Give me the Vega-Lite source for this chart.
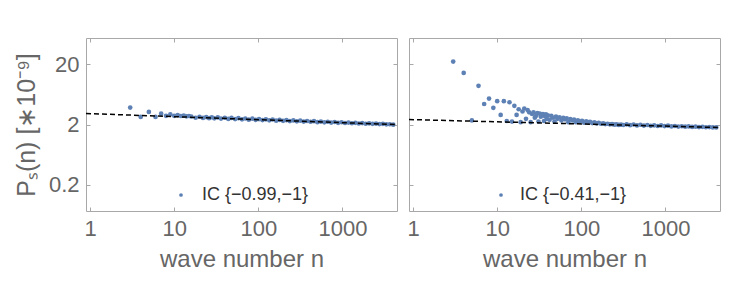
{
  "$schema": "https://vega.github.io/schema/vega-lite/v6.json",
  "padding": {"left": 13, "top": 37, "right": 5, "bottom": 2},
  "spacing": 8,
  "config": {
    "view": {"stroke": "#a8a8a8", "strokeWidth": 1},
    "font": "Liberation Sans",
    "axis": {
      "grid": false, "domain": false, "tickColor": "#a8a8a8", "tickSize": -4,
      "labelFontSize": 22, "labelColor": "#666666", "labelFont": "Liberation Sans",
      "titleFontSize": 24, "titleColor": "#666666", "titleFontWeight": "normal", "titleFont": "Liberation Sans"
    }
  },
  "datasets": {
    "pts": [
      {"panel":"L","n":3,"p":3.83},{"panel":"L","n":4,"p":2.68},{"panel":"L","n":5,"p":3.25},{"panel":"L","n":6,"p":2.68},
      {"panel":"L","n":7,"p":3.04},{"panel":"L","n":8,"p":2.80},{"panel":"L","n":9,"p":2.95},{"panel":"L","n":10,"p":2.80},
      {"panel":"L","n":11,"p":2.88},{"panel":"L","n":12,"p":2.78},{"panel":"L","n":13,"p":2.82},{"panel":"L","n":14,"p":2.75},
      {"panel":"L","n":15,"p":2.78},{"panel":"L","n":16,"p":2.73},{"panel":"L","n":18,"p":2.60},{"panel":"L","n":20,"p":2.70},
      {"panel":"L","n":22,"p":2.58},{"panel":"L","n":24,"p":2.67},{"panel":"L","n":26,"p":2.56},{"panel":"L","n":28,"p":2.65},
      {"panel":"L","n":30,"p":2.54},{"panel":"L","n":33,"p":2.63},{"panel":"L","n":36,"p":2.52},{"panel":"L","n":40,"p":2.60},
      {"panel":"L","n":44,"p":2.49},{"panel":"L","n":48,"p":2.58},{"panel":"L","n":53,"p":2.47},{"panel":"L","n":58,"p":2.56},
      {"panel":"L","n":64,"p":2.45},{"panel":"L","n":70,"p":2.53},{"panel":"L","n":77,"p":2.42},{"panel":"L","n":85,"p":2.51},
      {"panel":"L","n":93,"p":2.40},{"panel":"L","n":102,"p":2.47},{"panel":"L","n":112,"p":2.38},{"panel":"L","n":123,"p":2.45},
      {"panel":"L","n":135,"p":2.36},{"panel":"L","n":148,"p":2.43},{"panel":"L","n":163,"p":2.33},{"panel":"L","n":179,"p":2.39},
      {"panel":"L","n":197,"p":2.31},{"panel":"L","n":216,"p":2.37},{"panel":"L","n":237,"p":2.29},{"panel":"L","n":261,"p":2.35},
      {"panel":"L","n":287,"p":2.27},{"panel":"L","n":315,"p":2.33},{"panel":"L","n":346,"p":2.25},{"panel":"L","n":380,"p":2.30},
      {"panel":"L","n":418,"p":2.23},{"panel":"L","n":459,"p":2.28},{"panel":"L","n":504,"p":2.20},{"panel":"L","n":554,"p":2.25},
      {"panel":"L","n":609,"p":2.18},{"panel":"L","n":669,"p":2.23},{"panel":"L","n":735,"p":2.16},{"panel":"L","n":808,"p":2.21},
      {"panel":"L","n":888,"p":2.14},{"panel":"L","n":976,"p":2.19},{"panel":"L","n":1072,"p":2.13},{"panel":"L","n":1178,"p":2.16},
      {"panel":"L","n":1295,"p":2.11},{"panel":"L","n":1423,"p":2.14},{"panel":"L","n":1564,"p":2.09},{"panel":"L","n":1718,"p":2.12},
      {"panel":"L","n":1888,"p":2.07},{"panel":"L","n":2075,"p":2.10},{"panel":"L","n":2280,"p":2.06},{"panel":"L","n":2505,"p":2.08},
      {"panel":"L","n":2753,"p":2.04},{"panel":"L","n":3025,"p":2.06},{"panel":"L","n":3324,"p":2.02},{"panel":"L","n":3653,"p":2.03},
      {"panel":"L","n":4014,"p":2.00},

      {"panel":"R","n":3,"p":22.2},{"panel":"R","n":4,"p":14.4},{"panel":"R","n":5,"p":2.35},{"panel":"R","n":6,"p":8.8},
      {"panel":"R","n":7,"p":4.4},{"panel":"R","n":8,"p":5.4},{"panel":"R","n":9,"p":3.8},{"panel":"R","n":10,"p":4.9},
      {"panel":"R","n":11,"p":2.9},{"panel":"R","n":12,"p":4.9},{"panel":"R","n":13,"p":2.3},{"panel":"R","n":14,"p":4.7},
      {"panel":"R","n":15,"p":2.25},{"panel":"R","n":16,"p":4.1},{"panel":"R","n":17,"p":2.9},{"panel":"R","n":18,"p":3.6},
      {"panel":"R","n":19,"p":2.2},{"panel":"R","n":20,"p":3.3},{"panel":"R","n":21,"p":3.7},{"panel":"R","n":22,"p":2.5},
      {"panel":"R","n":23,"p":3.5},{"panel":"R","n":24,"p":3.2},{"panel":"R","n":25,"p":2.2},{"panel":"R","n":26,"p":3.0},
      {"panel":"R","n":27,"p":3.2},{"panel":"R","n":28,"p":2.6},{"panel":"R","n":29,"p":2.8},{"panel":"R","n":30,"p":3.1},
      {"panel":"R","n":31,"p":2.25},{"panel":"R","n":32,"p":3.05},{"panel":"R","n":33,"p":2.7},{"panel":"R","n":34,"p":2.9},
      {"panel":"R","n":35,"p":3.0},{"panel":"R","n":36,"p":2.3},{"panel":"R","n":37,"p":2.75},{"panel":"R","n":38,"p":2.95},
      {"panel":"R","n":39,"p":2.5},{"panel":"R","n":40,"p":2.85},{"panel":"R","n":42,"p":2.4},{"panel":"R","n":44,"p":2.8},
      {"panel":"R","n":46,"p":2.6},{"panel":"R","n":48,"p":2.25},{"panel":"R","n":50,"p":2.72},{"panel":"R","n":52,"p":2.5},
      {"panel":"R","n":55,"p":2.65},{"panel":"R","n":58,"p":2.35},{"panel":"R","n":61,"p":2.6},{"panel":"R","n":64,"p":2.45},
      {"panel":"R","n":67,"p":2.55},{"panel":"R","n":70,"p":2.2},{"panel":"R","n":74,"p":2.48},{"panel":"R","n":78,"p":2.35},
      {"panel":"R","n":82,"p":2.42},{"panel":"R","n":86,"p":2.2},{"panel":"R","n":91,"p":2.36},{"panel":"R","n":96,"p":2.25},
      {"panel":"R","n":102,"p":2.32},{"panel":"R","n":108,"p":2.15},{"panel":"R","n":114,"p":2.26},{"panel":"R","n":120,"p":2.2},
      {"panel":"R","n":127,"p":2.22},{"panel":"R","n":135,"p":2.12},{"panel":"R","n":143,"p":2.18},{"panel":"R","n":152,"p":2.1},
      {"panel":"R","n":161,"p":2.14},{"panel":"R","n":171,"p":2.07},{"panel":"R","n":182,"p":2.1},{"panel":"R","n":193,"p":2.04},
      {"panel":"R","n":205,"p":2.07},{"panel":"R","n":218,"p":2.02},{"panel":"R","n":232,"p":2.04},{"panel":"R","n":247,"p":2.0},
      {"panel":"R","n":262,"p":2.02},{"panel":"R","n":279,"p":1.98},{"panel":"R","n":297,"p":2.0},{"panel":"R","n":316,"p":1.97},
      {"panel":"R","n":346,"p":2.02},{"panel":"R","n":380,"p":1.96},{"panel":"R","n":418,"p":2.01},{"panel":"R","n":459,"p":1.94},
      {"panel":"R","n":504,"p":1.99},{"panel":"R","n":554,"p":1.93},{"panel":"R","n":609,"p":1.97},{"panel":"R","n":669,"p":1.91},
      {"panel":"R","n":735,"p":1.95},{"panel":"R","n":808,"p":1.90},{"panel":"R","n":888,"p":1.94},{"panel":"R","n":976,"p":1.89},
      {"panel":"R","n":1072,"p":1.92},{"panel":"R","n":1178,"p":1.87},{"panel":"R","n":1295,"p":1.90},{"panel":"R","n":1423,"p":1.86},
      {"panel":"R","n":1564,"p":1.88},{"panel":"R","n":1718,"p":1.85},{"panel":"R","n":1888,"p":1.87},{"panel":"R","n":2075,"p":1.83},
      {"panel":"R","n":2280,"p":1.85},{"panel":"R","n":2505,"p":1.82},{"panel":"R","n":2753,"p":1.84},{"panel":"R","n":3025,"p":1.81},
      {"panel":"R","n":3324,"p":1.82},{"panel":"R","n":3653,"p":1.80},{"panel":"R","n":4014,"p":1.80}
    ],
    "fit": [
      {"panel":"L","n":0.895,"p":3.06},{"panel":"L","n":4450,"p":2.0},
      {"panel":"R","n":0.895,"p":2.43},{"panel":"R","n":4450,"p":1.79}
    ]
  },
  "resolve": {"scale": {"color": "independent"}, "legend": {"color": "independent"}},
  "hconcat": [
    {
      "width": 311, "height": 173,
      "layer": [
        {
          "data": {"name": "pts"},
          "transform": [{"filter": "datum.panel === 'L'"}],
          "mark": {"type": "point", "filled": true, "size": 22, "opacity": 1, "clip": true},
          "encoding": {
            "x": {"field": "n", "type": "quantitative",
              "scale": {"type": "log", "domain": [0.895, 4450], "nice": false},
              "axis": {"orient": "bottom", "values": [1, 10, 100, 1000], "format": "~g", "labelPadding": 11, "title": "wave number n", "titlePadding": 8}},
            "y": {"field": "p", "type": "quantitative",
              "scale": {"type": "log", "domain": [0.074, 54.6], "nice": false},
              "axis": {"orient": "left", "values": [0.2, 2, 20], "format": "~g", "labelPadding": 11, "title": "Pₛ(n) [∗10⁻⁹]", "titlePadding": 9, "titleFontSize": 25}},
            "color": {"datum": "IC {−0.99,−1}", "type": "nominal",
              "scale": {"range": ["#5e81b5"]},
              "legend": {"title": null, "orient": "none", "legendX": 86, "legendY": 148, "padding": 0,
                "symbolType": "circle", "symbolSize": 14, "symbolStrokeWidth": 0, "labelFontSize": 18, "labelColor": "#333333", "labelOffset": 12, "labelFont": "Liberation Sans"}}
          }
        },
        {
          "data": {"name": "fit"},
          "transform": [{"filter": "datum.panel === 'L'"}],
          "mark": {"type": "line", "color": "black", "strokeDash": [5, 3], "strokeWidth": 1.5, "clip": true},
          "encoding": {
            "x": {"field": "n", "type": "quantitative", "axis": {"orient": "top", "values": [1, 10, 100, 1000], "labels": false, "title": null}},
            "y": {"field": "p", "type": "quantitative", "axis": {"orient": "right", "values": [0.2, 2, 20], "labels": false, "title": null}}
          }
        }
      ],
      "resolve": {"axis": {"x": "independent", "y": "independent"}}
    },
    {
      "width": 311, "height": 173,
      "layer": [
        {
          "data": {"name": "pts"},
          "transform": [{"filter": "datum.panel === 'R'"}],
          "mark": {"type": "point", "filled": true, "size": 22, "opacity": 1, "clip": true},
          "encoding": {
            "x": {"field": "n", "type": "quantitative",
              "scale": {"type": "log", "domain": [0.895, 4450], "nice": false},
              "axis": {"orient": "bottom", "values": [1, 10, 100, 1000], "format": "~g", "labelPadding": 11, "title": "wave number n", "titlePadding": 8}},
            "y": {"field": "p", "type": "quantitative",
              "scale": {"type": "log", "domain": [0.074, 54.6], "nice": false},
              "axis": {"orient": "left", "values": [0.2, 2, 20], "labels": false, "title": null}},
            "color": {"datum": "IC {−0.41,−1}", "type": "nominal",
              "scale": {"range": ["#5e81b5"]},
              "legend": {"title": null, "orient": "none", "legendX": 83, "legendY": 148, "padding": 0,
                "symbolType": "circle", "symbolSize": 14, "symbolStrokeWidth": 0, "labelFontSize": 18, "labelColor": "#333333", "labelOffset": 10, "labelFont": "Liberation Sans"}}
          }
        },
        {
          "data": {"name": "fit"},
          "transform": [{"filter": "datum.panel === 'R'"}],
          "mark": {"type": "line", "color": "black", "strokeDash": [5, 3], "strokeWidth": 1.5, "clip": true},
          "encoding": {
            "x": {"field": "n", "type": "quantitative", "axis": {"orient": "top", "values": [1, 10, 100, 1000], "labels": false, "title": null}},
            "y": {"field": "p", "type": "quantitative", "axis": {"orient": "right", "values": [0.2, 2, 20], "labels": false, "title": null}}
          }
        }
      ],
      "resolve": {"axis": {"x": "independent", "y": "independent"}}
    }
  ]
}
